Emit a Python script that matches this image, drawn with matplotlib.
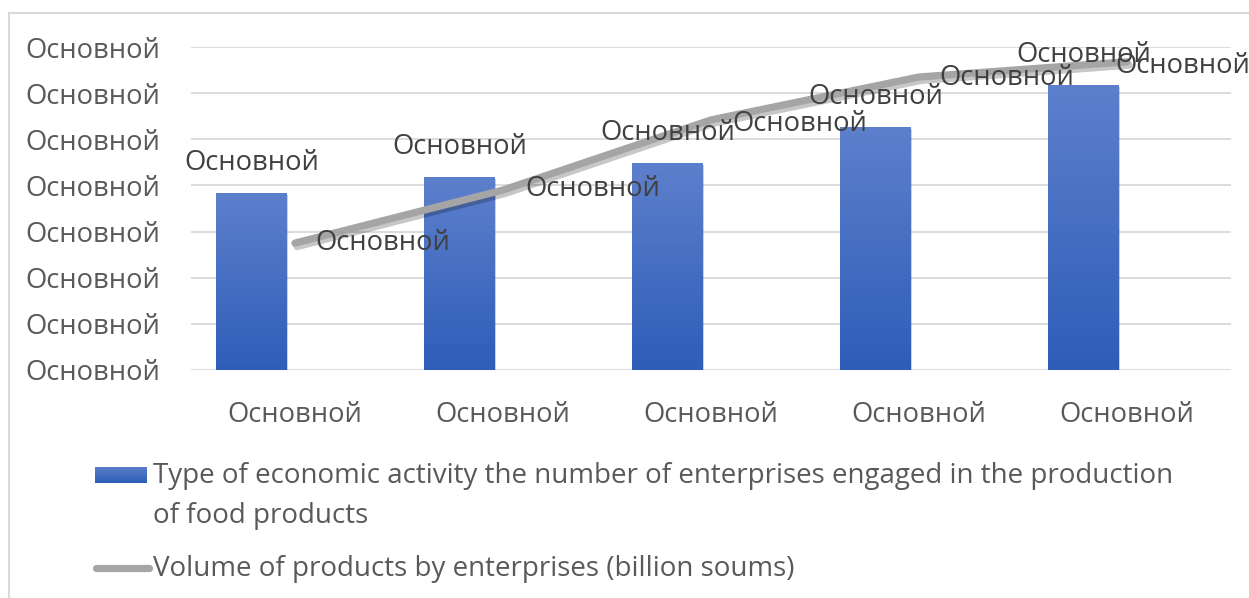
import numpy as np
import matplotlib
matplotlib.use("Agg")
import matplotlib.pyplot as plt
import matplotlib.patheffects as pe
from matplotlib.colors import LinearSegmentedColormap
from matplotlib.patches import Rectangle
from matplotlib.lines import Line2D

plt.rcParams['font.family'] = ['Open Sans', 'DejaVu Sans']

# chart data
categories = ['Основной', 'Основной', 'Основной', 'Основной', 'Основной']
enterprises = [38.4, 41.8, 44.9, 52.7, 61.8]
volume = [27.5, 39.0, 54.2, 63.5, 66.8]
bar_labels = ['Основной', 'Основной', 'Основной', 'Основной', 'Основной']
line_labels = ['Основной', 'Основной', 'Основной', 'Основной', 'Основной']
y_ticks = [0, 10, 20, 30, 40, 50, 60, 70]
y_tick_labels = ['Основной'] * 8

bar_name = ("Type of economic activity the number of enterprises engaged in the production\n"
            "of food products")
line_name = "Volume of products by enterprises (billion soums)"

W, H = 1249, 598
fig = plt.figure(figsize=(W / 100, H / 100), dpi=100)
fig.patch.set_facecolor('white')

# outer chart frame
fig.add_artist(Rectangle((9 / W, -0.1), 1.2, 1 - 13 / H + 0.1, transform=fig.transFigure,
                         fill=False, edgecolor='#D9D9D9', lw=1.5))

ax = fig.add_axes([191 / W, 1 - 370 / H, 1040 / W, (370 - 47) / H])

x = np.arange(len(categories))
bar_off = -0.21
bar_w = 0.337
fs = 19.7

grad_cmap = LinearSegmentedColormap.from_list('blues', ['#2E5DB8', '#5D80CC'])
grad = np.linspace(0, 1, 256).reshape(-1, 1)

bars = ax.bar(x + bar_off, enterprises, width=bar_w, color='#4672C4', zorder=2,
              path_effects=[pe.SimplePatchShadow(offset=(1.5, -1.5), shadow_rgbFace='#000000',
                                                 alpha=0.18), pe.Normal()])
for b in bars:
    x0, y0 = b.get_x(), b.get_y()
    im = ax.imshow(grad, extent=[x0, x0 + b.get_width(), y0, y0 + b.get_height()],
                   origin='lower', aspect='auto', cmap=grad_cmap, zorder=3)
    im.set_clip_path(b)

ax.plot(x, volume, color='#A5A5A5', lw=5.2, solid_capstyle='round', solid_joinstyle='round',
        zorder=4,
        path_effects=[pe.SimpleLineShadow(offset=(1.5, -2.5), shadow_color='#000000', alpha=0.22),
                      pe.Normal()])

ax.set_xlim(-0.5, len(categories) - 0.5)
ax.set_ylim(0, 70)
ax.set_yticks(y_ticks)
ax.set_yticklabels(y_tick_labels)
ax.set_xticks(x)
ax.set_xticklabels(categories)
ax.grid(axis='y', color='#D9D9D9', lw=1.3, zorder=0)
ax.set_axisbelow(True)
for s in ax.spines.values():
    s.set_visible(False)
ax.tick_params(axis='both', length=0, labelsize=fs, labelcolor='#595959')
ax.tick_params(axis='y', pad=22)
ax.tick_params(axis='x', pad=22.5)

# data labels
for xi, v, lab in zip(x, enterprises, bar_labels):
    ax.annotate(lab, (xi + bar_off, v), xytext=(0, 30), textcoords='offset pixels',
                ha='center', va='center', fontsize=fs, color='#404040', zorder=6)

line_dx = [88, 90, 89, 88, 56]
line_dy = [0, 1, -4, -1, -4]
for xi, v, lab, dx, dy in zip(x, volume, line_labels, line_dx, line_dy):
    ax.annotate(lab, (xi, v), xytext=(dx, dy), textcoords='offset pixels',
                ha='center', va='center', fontsize=fs, color='#404040', zorder=6)

# legend
lax = fig.add_axes([95 / W, 1 - 483 / H, 52 / W, 16 / H])
lax.imshow(grad, origin='lower', aspect='auto', cmap=grad_cmap, extent=[0, 1, 0, 1])
lax.set_axis_off()
fig.text(153 / W, 1 - 462 / H, bar_name, ha='left', va='top', fontsize=20,
         color='#595959', linespacing=1.55)
fig.add_artist(Line2D([96 / W, 149 / W], [1 - 568 / H, 1 - 568 / H], transform=fig.transFigure,
                      color='#A5A5A5', lw=5.2, solid_capstyle='round'))
fig.text(153 / W, 1 - 569 / H, line_name, ha='left', va='center', fontsize=20, color='#595959')

fig.savefig('out.png', dpi=100)
